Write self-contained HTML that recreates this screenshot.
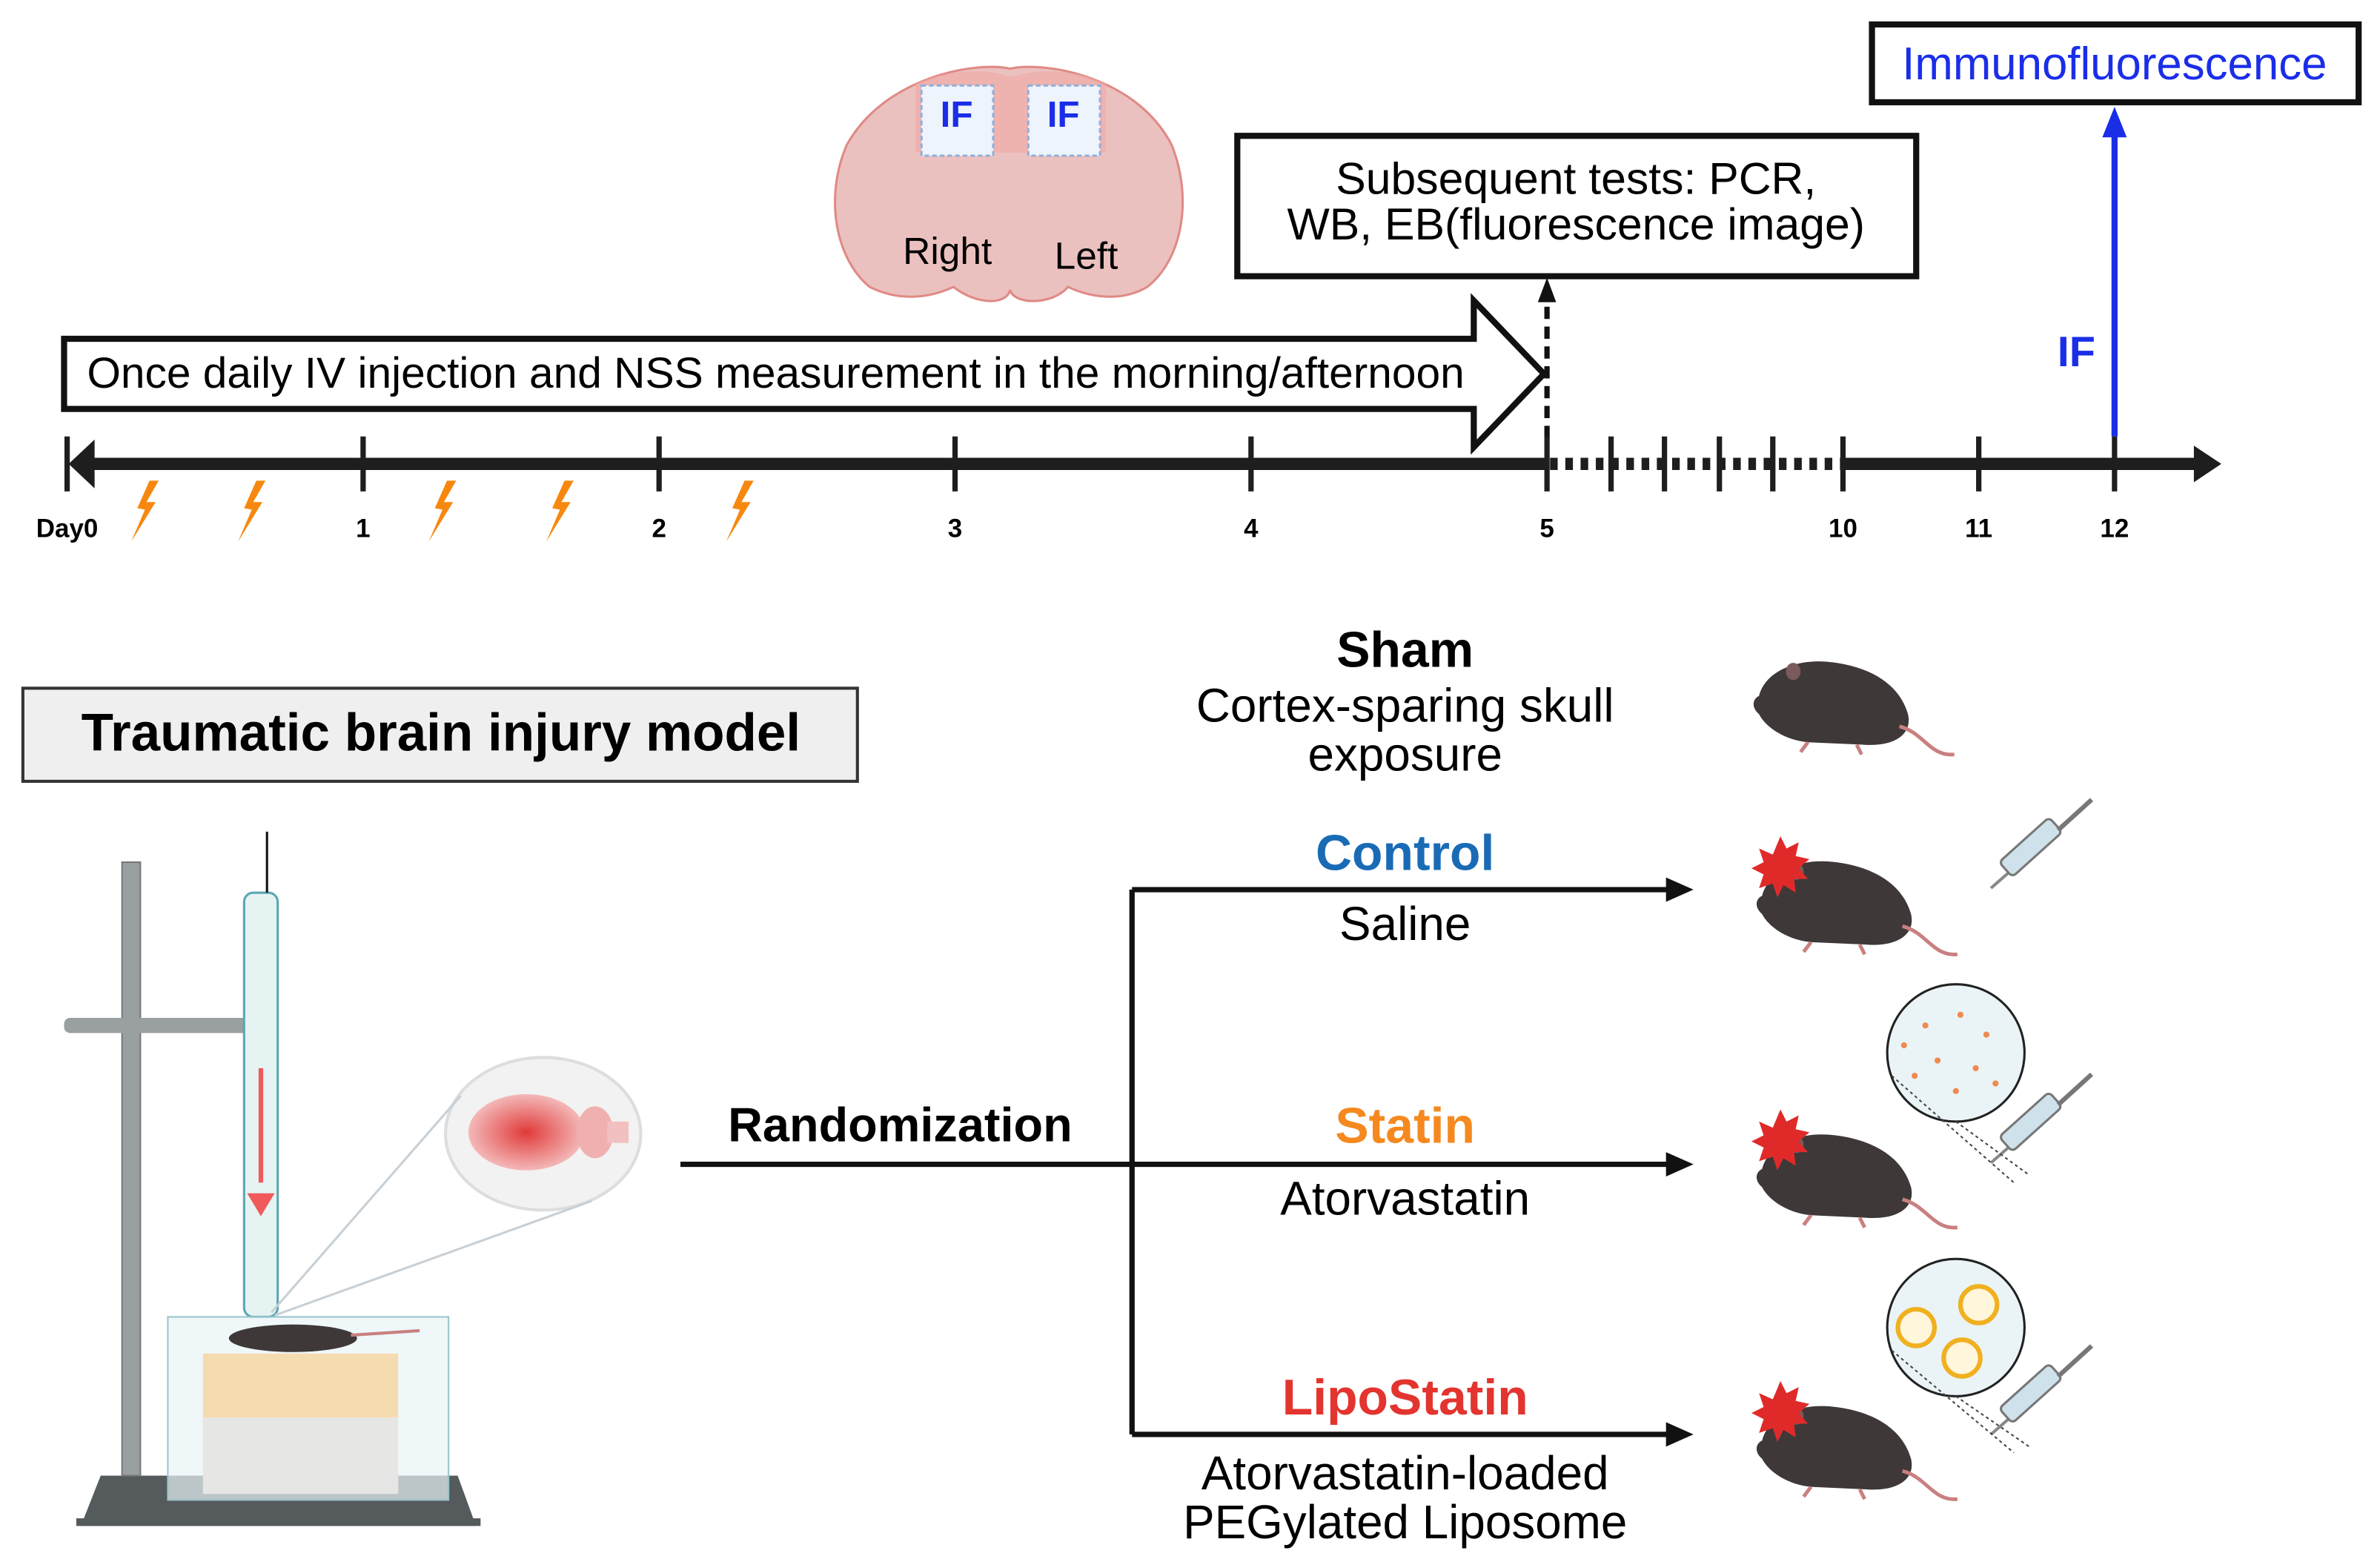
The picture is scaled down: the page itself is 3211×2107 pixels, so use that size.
<!DOCTYPE html>
<html><head><meta charset="utf-8"><style>
html,body{margin:0;padding:0;background:#fff}
svg{display:block}
text{font-family:"Liberation Sans",sans-serif}
</style></head><body>
<svg width="3211" height="2107" viewBox="0 0 1560 1023.6" xmlns="http://www.w3.org/2000/svg">
<defs>
<radialGradient id="rg" cx="50%" cy="50%" r="50%"><stop offset="0" stop-color="#e03a3a"/><stop offset="1" stop-color="#f4b8b8"/></radialGradient>
<g id="mouse">
<path d="M0,30 C5,10 30,0 55,2 C90,5 115,20 122,45 C126,62 110,72 85,70 L40,68 C20,66 5,55 0,45 C-6,40 -6,33 0,30Z" fill="#3e3838"/>
<ellipse cx="28" cy="10" rx="6" ry="7" fill="#7a5a5a"/>
<path d="M115,55 C135,60 140,80 160,78" stroke="#c98080" stroke-width="3" fill="none"/>
<path d="M40,68 l-6,8 M80,70 l4,8" stroke="#c98080" stroke-width="3"/>
</g>
<g id="hurt"><path d="M12,0 l4,8 8,-4 -2,9 9,2 -7,6 6,7 -9,0 1,9 -8,-5 -4,8 -3,-9 -9,3 3,-9 -8,-4 8,-4 -3,-9 9,4Z" fill="#e02a2a"/></g>
<g id="syr"><line x1="0" y1="0" x2="64" y2="-56" stroke="#888" stroke-width="2"/><rect x="8" y="-18" width="44" height="13" rx="3" transform="rotate(-42 8 -14)" fill="#cfe2ec" stroke="#777" stroke-width="1.5"/><line x1="44" y1="-38" x2="66" y2="-58" stroke="#777" stroke-width="3"/></g>
<g id="bolt"><path d="M12,0 L4,18 L9,19 L0,40 L16,14 L10,14 L18,0Z" fill="#f7880f"/></g>
</defs>

<!-- coronal brain -->
<path d="M662,45 C640,40 580,50 555,95 C540,130 548,170 570,188 C590,198 610,195 625,188 C640,200 660,200 662,190 C665,200 690,200 700,188 C715,195 735,198 752,188 C775,170 782,130 768,95 C745,50 685,40 662,45Z" fill="#ebc1bf" stroke="#e08a85" stroke-width="1.5"/>
<path d="M600,55 C620,45 650,45 660,50 L665,50 C680,45 705,45 725,55 L725,100 L600,100Z" fill="#f0a8a5" opacity=".6"/>
<rect x="604" y="56" width="47" height="46" fill="#eef4fc" stroke="#8fb0dc" stroke-width="1.5" stroke-dasharray="3 2"/>
<rect x="674" y="56" width="47" height="46" fill="#eef4fc" stroke="#8fb0dc" stroke-width="1.5" stroke-dasharray="3 2"/>
<text x="627" y="83" font-size="24" font-weight="bold" fill="#1a2ee8" text-anchor="middle">IF</text>
<text x="697" y="83" font-size="24" font-weight="bold" fill="#1a2ee8" text-anchor="middle">IF</text>
<text x="621" y="173" font-size="25" text-anchor="middle">Right</text>
<text x="712" y="176" font-size="25" text-anchor="middle">Left</text>

<!-- boxes top -->
<rect x="811" y="89" width="445" height="92" fill="#fff" stroke="#111" stroke-width="4"/>
<text x="1033" y="127" font-size="29.5" text-anchor="middle">Subsequent tests: PCR,</text>
<text x="1033" y="157" font-size="29.5" text-anchor="middle">WB, EB(fluorescence image)</text>
<rect x="1227" y="16" width="319" height="51" fill="#fff" stroke="#111" stroke-width="4"/>
<text x="1386" y="52" font-size="30" fill="#1a2ee8" text-anchor="middle">Immunofluorescence</text>

<!-- dashed up arrow -->
<line x1="1014" y1="287" x2="1014" y2="196" stroke="#111" stroke-width="3.5" stroke-dasharray="8 5"/>
<path d="M1014,182 l-6,16 12,0Z" fill="#111"/>
<!-- blue arrow -->
<line x1="1386" y1="286" x2="1386" y2="85" stroke="#1a2ee8" stroke-width="4"/>
<path d="M1386,70 l-8,20 16,0Z" fill="#1a2ee8"/>
<text x="1361" y="240" font-size="28" font-weight="bold" fill="#1a2ee8" text-anchor="middle">IF</text>

<!-- big arrow -->
<path d="M42,222 L966,222 L966,197 L1012,245 L966,293 L966,268 L42,268Z" fill="#fff" stroke="#111" stroke-width="4" stroke-linejoin="miter"/>
<text x="57" y="254" font-size="28.5">Once daily IV injection and NSS measurement in the morning/afternoon</text>

<!-- timeline -->
<line x1="58" y1="304" x2="1014" y2="304" stroke="#1e1e1e" stroke-width="8"/>
<path d="M45,304 L62,288 L62,320Z" fill="#1e1e1e"/>
<line x1="1016" y1="304" x2="1206" y2="304" stroke="#1e1e1e" stroke-width="8" stroke-dasharray="5 5"/>
<line x1="1206" y1="304" x2="1440" y2="304" stroke="#1e1e1e" stroke-width="8"/>
<path d="M1456,304 L1438,292 L1438,316Z" fill="#1e1e1e"/>
<g stroke="#1e1e1e" stroke-width="3.5">
<line x1="44" y1="286" x2="44" y2="322"/><line x1="238" y1="286" x2="238" y2="322"/><line x1="432" y1="286" x2="432" y2="322"/><line x1="626" y1="286" x2="626" y2="322"/><line x1="820" y1="286" x2="820" y2="322"/><line x1="1014" y1="286" x2="1014" y2="322"/><line x1="1056" y1="286" x2="1056" y2="322"/><line x1="1091" y1="286" x2="1091" y2="322"/><line x1="1127" y1="286" x2="1127" y2="322"/><line x1="1162" y1="286" x2="1162" y2="322"/><line x1="1208" y1="286" x2="1208" y2="322"/><line x1="1297" y1="286" x2="1297" y2="322"/><line x1="1386" y1="286" x2="1386" y2="322"/>
</g>
<g font-size="17" font-weight="bold" text-anchor="middle">
<text x="44" y="352">Day0</text><text x="238" y="352">1</text><text x="432" y="352">2</text><text x="626" y="352">3</text><text x="820" y="352">4</text><text x="1014" y="352">5</text><text x="1208" y="352">10</text><text x="1297" y="352">11</text><text x="1386" y="352">12</text>
</g>
<use href="#bolt" x="86" y="315"/><use href="#bolt" x="156" y="315"/><use href="#bolt" x="281" y="315"/><use href="#bolt" x="358" y="315"/><use href="#bolt" x="476" y="315"/>

<!-- TBI box -->
<rect x="15" y="451" width="547" height="61" fill="#efefef" stroke="#333" stroke-width="2"/>
<text x="289" y="492" font-size="34.5" font-weight="bold" text-anchor="middle">Traumatic brain injury model</text>

<!-- apparatus -->
<path d="M66,967 L53,1000 L312,1000 L300,967Z" fill="#555b5c"/>
<rect x="50" y="995" width="265" height="5" fill="#555b5c"/>
<rect x="80" y="565" width="12" height="402" fill="#9a9fa1" stroke="#777" stroke-width="1"/>
<rect x="42" y="667" width="140" height="10" rx="4" fill="#9a9fa1"/>
<rect x="160" y="676" width="20" height="14" fill="#555"/>
<rect x="160" y="585" width="22" height="278" rx="6" fill="#e6f3f3" stroke="#5aa8b0" stroke-width="1.5"/>
<line x1="175" y1="545" x2="175" y2="585" stroke="#111" stroke-width="1.5"/>
<line x1="171" y1="700" x2="171" y2="775" stroke="#f05a5a" stroke-width="3"/>
<path d="M162,782 L180,782 L171,797Z" fill="#f05a5a"/>
<rect x="110" y="863" width="184" height="120" fill="#e8f4f6" fill-opacity=".7" stroke="#9ac4cc" stroke-width="1"/>
<rect x="133" y="887" width="128" height="42" fill="#f5dcb0"/>
<rect x="133" y="929" width="128" height="50" fill="#e6e6e4"/>
<ellipse cx="192" cy="877" rx="42" ry="9" fill="#3e3838"/>
<line x1="230" y1="875" x2="275" y2="872" stroke="#c98080" stroke-width="2"/>
<ellipse cx="356" cy="743" rx="64" ry="50" fill="#f2f2f2" stroke="#ddd" stroke-width="2"/>
<ellipse cx="345" cy="742" rx="38" ry="25" fill="url(#rg)"/>
<ellipse cx="390" cy="742" rx="12" ry="17" fill="#f0b0b0"/>
<rect x="398" y="735" width="14" height="14" fill="#f2c0c0"/>
<line x1="178" y1="860" x2="302" y2="718" stroke="#c8d0d6" stroke-width="1.5"/>
<line x1="180" y1="862" x2="388" y2="787" stroke="#c8d0d6" stroke-width="1.5"/>

<!-- randomization -->
<text x="590" y="748" font-size="31.5" font-weight="bold" text-anchor="middle">Randomization</text>
<g stroke="#111" stroke-width="3.5" fill="none">
<line x1="446" y1="763" x2="1095" y2="763"/>
<line x1="742" y1="583" x2="742" y2="940"/>
<line x1="742" y1="583" x2="1095" y2="583"/>
<line x1="742" y1="940" x2="1095" y2="940"/>
</g>
<path d="M1110,583 l-18,-8 0,16Z M1110,763 l-18,-8 0,16Z M1110,940 l-18,-8 0,16Z" fill="#111"/>

<g text-anchor="middle" font-size="31">
<text x="921" y="437" font-size="33" font-weight="bold">Sham</text>
<text x="921" y="473">Cortex-sparing skull</text>
<text x="921" y="505">exposure</text>
<text x="921" y="570" font-size="33" font-weight="bold" fill="#1a6bb5">Control</text>
<text x="921" y="616">Saline</text>
<text x="921" y="749" font-size="33" font-weight="bold" fill="#f5891f">Statin</text>
<text x="921" y="796">Atorvastatin</text>
<text x="921" y="927" font-size="33" font-weight="bold" fill="#e3342f">LipoStatin</text>
<text x="921" y="976">Atorvastatin-loaded</text>
<text x="921" y="1008">PEGylated Liposome</text>
</g>

<!-- mice -->
<g transform="translate(1153,432) scale(0.8)"><use href="#mouse"/></g>
<g transform="translate(1155,563) scale(0.8)"><use href="#mouse"/></g><use href="#hurt" x="1155" y="548"/><use href="#syr" x="1305" y="582"/>
<g transform="translate(1155,742) scale(0.8)"><use href="#mouse"/></g><use href="#hurt" x="1155" y="727"/><use href="#syr" x="1305" y="762"/>
<g transform="translate(1155,920) scale(0.8)"><use href="#mouse"/></g><use href="#hurt" x="1155" y="905"/><use href="#syr" x="1305" y="940"/>
<circle cx="1282" cy="690" r="45" fill="#eaf4f6" stroke="#222" stroke-width="1.5"/>
<g fill="#f08a50"><circle cx="1262" cy="672" r="2"/><circle cx="1285" cy="665" r="2"/><circle cx="1302" cy="678" r="2"/><circle cx="1270" cy="695" r="2"/><circle cx="1295" cy="700" r="2"/><circle cx="1255" cy="705" r="2"/><circle cx="1282" cy="715" r="2"/><circle cx="1308" cy="710" r="2"/><circle cx="1248" cy="685" r="2"/></g>
<circle cx="1282" cy="870" r="45" fill="#eaf4f6" stroke="#222" stroke-width="1.5"/>
<g fill="#fff6dc" stroke="#f0b020" stroke-width="3"><circle cx="1256" cy="870" r="12"/><circle cx="1297" cy="855" r="12"/><circle cx="1286" cy="890" r="12"/></g>
<line x1="1282" y1="735" x2="1330" y2="770" stroke="#444" stroke-dasharray="2 2"/><line x1="1240" y1="705" x2="1320" y2="775" stroke="#444" stroke-dasharray="2 2"/>
<line x1="1282" y1="915" x2="1330" y2="948" stroke="#444" stroke-dasharray="2 2"/><line x1="1240" y1="885" x2="1320" y2="952" stroke="#444" stroke-dasharray="2 2"/>
</svg>
</body></html>
